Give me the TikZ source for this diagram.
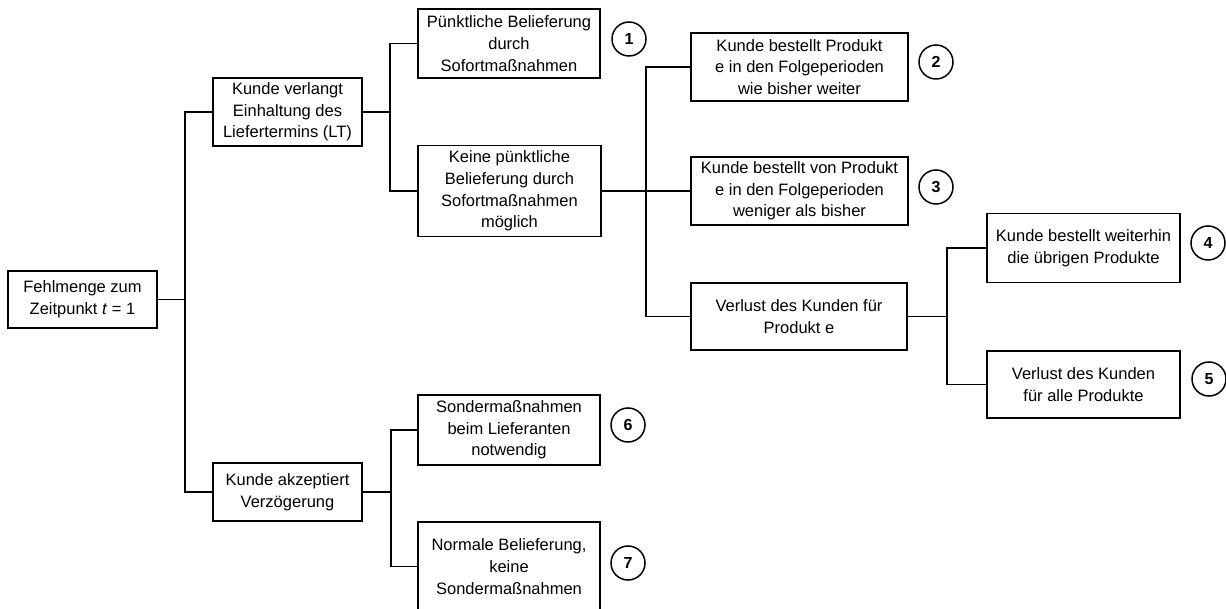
\documentclass[tikz,border=0pt]{standalone}
\usepackage{fontspec}
\setmainfont{Liberation Sans}
\begin{document}
\begin{tikzpicture}[x=1pt,y=-1pt,
  box/.style={draw=black,line width=1.6pt,rectangle,inner sep=0pt,align=center,
    font=\fontsize{16.5}{21.7}\selectfont},
  num/.style={draw=black,line width=1.5pt,circle,minimum size=34pt,inner sep=0pt,
    font=\fontsize{16}{18}\selectfont\bfseries},
  conn/.style={line width=1.9pt,line cap=rect}]
\useasboundingbox (0,0) rectangle (1226,609);
\clip (0,0) rectangle (1226,609);
\fill[white] (0,0) rectangle (1226,609);
% boxes
\node[box,minimum width=149pt,minimum height=57pt] (f) at (82.5,299.5) {Fehlmenge zum\\Zeitpunkt \textit{t} = 1};
\node[box,minimum width=149pt,minimum height=68pt] (a) at (287.5,112) {Kunde verlangt\\Einhaltung des\\Liefertermins (LT)};
\node[box,minimum width=149pt,minimum height=58pt] (b) at (287.5,492) {Kunde akzeptiert\\Verzögerung};
\node[box,minimum width=182pt,minimum height=69pt] (p1) at (509,43.5) {Pünktliche Belieferung\\durch\\Sofortmaßnahmen};
\node[box,minimum width=183pt,minimum height=91pt] (k) at (509.5,191) {Keine pünktliche\\Belieferung durch\\Sofortmaßnahmen\\möglich};
\node[box,minimum width=182pt,minimum height=70pt] (s6) at (509,430) {Sondermaßnahmen\\beim Lieferanten\\notwendig};
\node[box,minimum width=182pt,minimum height=89pt] (s7) at (509,566.5) {Normale Belieferung,\\keine\\Sondermaßnahmen};
\node[box,minimum width=217pt,minimum height=68pt] (b2) at (799.5,67) {Kunde bestellt Produkt\\e in den Folgeperioden\\wie bisher weiter};
\node[box,minimum width=217pt,minimum height=68pt] (b3) at (799.5,191) {Kunde bestellt von Produkt\\e in den Folgeperioden\\weniger als bisher};
\node[box,minimum width=216pt,minimum height=67pt] (v) at (799,316.5) {Verlust des Kunden für\\Produkt e};
\node[box,minimum width=193pt,minimum height=69pt] (b4) at (1083.5,248) {Kunde bestellt weiterhin\\die übrigen Produkte};
\node[box,minimum width=193pt,minimum height=67pt] (b5) at (1083.5,384.5) {Verlust des Kunden\\für alle Produkte};
% numbers
\node[num] (n1) at (629,39) {1};
\node[num] (n2) at (936,62) {2};
\node[num] (n3) at (936,187) {3};
\node[num] (n4) at (1208,243) {4};
\node[num] (n5) at (1209,379) {5};
\node[num] (n6) at (628,425) {6};
\node[num] (n7) at (628,563) {7};
% junctions
\coordinate (j1) at (185,299.5);
\coordinate (j2) at (390,112);
\coordinate (j5) at (391,492);
\coordinate (j3) at (646,191);
\coordinate (j4) at (947,316.5);
% connectors
\draw[conn] (f.east) -- (j1);
\draw[conn] (a.west) -| (j1) |- (b.west);
\draw[conn] (a.east) -- (j2);
\draw[conn] (p1.west) -| (j2) |- (k.west);
\draw[conn] (b.east) -- (j5);
\draw[conn] (s6.west) -| (j5) |- (s7.west);
\draw[conn] (k.east) -- (b3.west);
\draw[conn] (b2.west) -| (j3) |- (v.west);
\draw[conn] (v.east) -- (j4);
\draw[conn] (b4.west) -| (j4) |- (b5.west);
\end{tikzpicture}
\end{document}
